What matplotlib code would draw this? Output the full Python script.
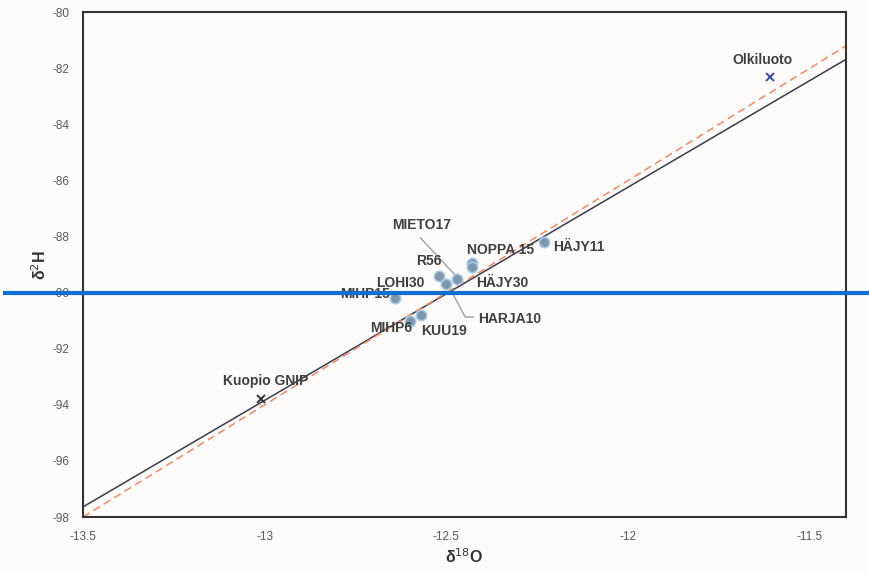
import numpy as np
import matplotlib
matplotlib.use('Agg')
import matplotlib.pyplot as plt

plt.rcParams['font.family'] = ['Liberation Sans', 'DejaVu Sans']
plt.rcParams['axes.unicode_minus'] = False

# samples (d18O, d2H)
names = ['HÄJY11', 'NOPPA 15', 'NOPPA 15b', 'HÄJY30', 'R56', 'LOHI30',
         'MIHP15', 'KUU19', 'MIHP6']
d18o = [-12.23, -12.43, -12.43, -12.47, -12.52, -12.50, -12.64, -12.57, -12.60]
d2h = [-88.2, -88.95, -89.1, -89.5, -89.4, -89.7, -90.2, -90.8, -91.0]

# reference waters
ref_names = ['Olkiluoto', 'Kuopio GNIP']
ref_d18o = [-11.61, -13.01]
ref_d2h = [-82.3, -93.8]

# water lines: local (solid) and global (dashed)
lmwl = (7.6, 4.96)
gmwl = (8.0, 10.0)

xticks = [-13.5, -13, -12.5, -12, -11.5]
yticks = np.arange(-98, -79, 2)

fig = plt.figure(figsize=(8.7, 5.73), dpi=100, facecolor='#fdfcfa')
ax = fig.add_axes([0.0954, 0.0977, 0.877, 0.881], facecolor='#fdfcfa')

xx = np.array([-13.5, -11.4])
ax.plot(xx, lmwl[0] * xx + lmwl[1], color='#3b3b4a', lw=1.1, zorder=2)
ax.plot(xx, gmwl[0] * xx + gmwl[1], color='#f08a6a', lw=1.1, ls=(0, (5, 3)), zorder=2)

ax.plot(d18o, d2h, 'o', ms=7.5, mfc='#7f97ab', mec='#a9cbe6', mew=1.2, zorder=4)
ax.plot(ref_d18o[0], ref_d2h[0], 'x', ms=6, mew=1.4, color='#3d4fa0', zorder=4)
ax.plot(ref_d18o[1], ref_d2h[1], 'x', ms=6, mew=1.4, color='#333333', zorder=4)

lab = dict(fontsize=10, fontweight='bold', color='#3f3f3f', va='center', zorder=5)
ax.text(-11.631, -81.71, 'Olkiluoto', ha='center', **lab)
ax.text(-12.997, -93.15, 'Kuopio GNIP', ha='center', **lab)
ax.text(-12.205, -88.37, 'HÄJY11', ha='left', **lab)
ax.text(-12.443, -88.48, 'NOPPA 15', ha='left', **lab)
ax.text(-12.418, -89.66, 'HÄJY30', ha='left', **lab)
ax.text(-12.514, -88.87, 'R56', ha='right', **lab)
ax.text(-12.694, -89.66, 'LOHI30', ha='left', **lab)
ax.text(-12.792, -90.05, 'MIHP15', ha='left', **lab)
ax.text(-12.710, -91.26, 'MIHP6', ha='left', **lab)
ax.text(-12.568, -91.37, 'KUU19', ha='left', **lab)
ax.text(-12.648, -87.59, 'MIETO17', ha='left', **lab)
ax.text(-12.413, -90.94, 'HARJA10', ha='left', **lab)

# leader lines
ax.plot([-12.571, -12.473], [-88.05, -89.41], color='#a0a0a0', lw=1, zorder=3)
ax.plot([-12.495, -12.448, -12.426], [-89.73, -90.87, -90.87], color='#a0a0a0', lw=1, zorder=3)

ax.set_xlim(-13.5, -11.4)
ax.set_ylim(-98, -80)
ax.set_xticks(xticks)
ax.set_xticklabels(['-13.5', '-13', '-12.5', '-12', '-11.5'])
ax.set_yticks(yticks)
ax.tick_params(length=0, labelsize=8.5, labelcolor='#595959', pad=10)
for s in ax.spines.values():
    s.set_color('#333333')
    s.set_linewidth(1.5)

ax.set_xlabel('δ$^{18}$O', fontsize=11.5, fontweight='bold', color='#333333', labelpad=3)
ax.set_ylabel('δ$^{2}$H', fontsize=11.5, fontweight='bold', color='#333333', labelpad=2)

# blue marker line at -90
ax.axhline(-90, xmin=-0.102, xmax=1.031, color='#0a6fd0', lw=3, clip_on=False, zorder=6)

plt.savefig('out.png', dpi=100, facecolor=fig.get_facecolor())
